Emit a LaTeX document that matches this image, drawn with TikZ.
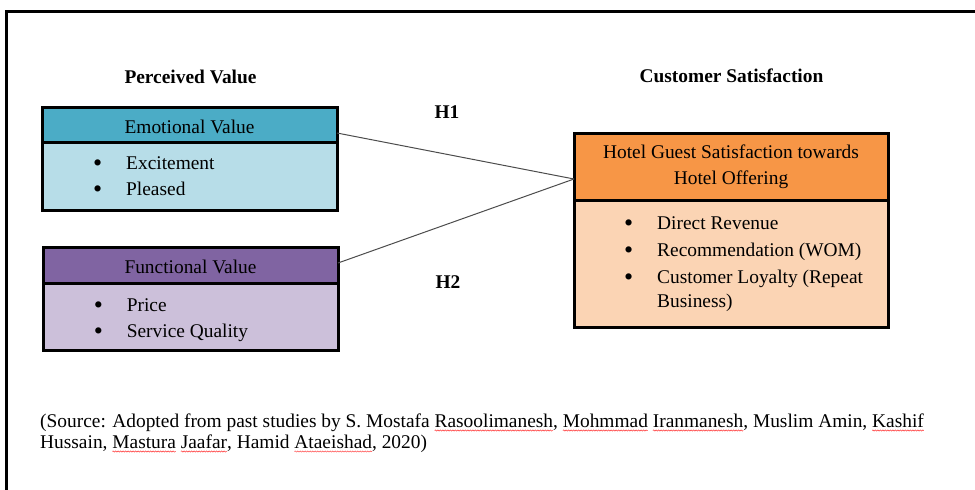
\documentclass[tikz,border=0pt]{standalone}
\usepackage{fontspec}
\setmainfont{Liberation Serif}
\usetikzlibrary{positioning, decorations.pathmorphing}

\definecolor{emoHeadFill}{HTML}{4BACC6}
\definecolor{emoBodyFill}{HTML}{B7DDE8}
\definecolor{funHeadFill}{HTML}{8064A2}
\definecolor{funBodyFill}{HTML}{CCC0DA}
\definecolor{hotHeadFill}{HTML}{F79646}
\definecolor{hotBodyFill}{HTML}{FBD4B4}

% red wavy underline for the names in the source line
\newlength{\spellwidth}
\newcommand{\spellwave}[1]{\settowidth{\spellwidth}{#1}%
    \mbox{\rlap{\tikz[overlay, baseline=0pt]\draw[spellmark] (0pt,-3.5pt) -- (\spellwidth,-3.5pt);}#1}}

% bullet followed by the item text
\newcommand{\bulletitem}[1]{\makebox[33pt][l]{\raisebox{-2.2pt}{\fontsize{26}{26}\selectfont\textbullet}}#1}

\tikzset{
    every node/.style={font=\fontsize{19.4}{26}\selectfont},
    box/.style={ % coloured boxes with thick black border
        draw, line width=3pt,
        outer sep=0pt, inner sep=0pt,
        anchor=north west
    },
    head/.style={box, text height=17pt, text depth=0pt},
    twohead/.style={box, align=center},
    body/.style={box},
    item/.style={anchor=base west, inner sep=0pt},
    title/.style={anchor=base, inner sep=0pt,
        font=\fontsize{19.4}{26}\selectfont\bfseries},
    link/.style={draw=black!70, line width=1pt},
    spellmark/.style={draw=red!80, line width=0.5pt,
        decorate, decoration={snake, amplitude=0.6pt, segment length=2.5pt}}
}

\begin{document}
\begin{tikzpicture}[x=1pt, y=-1pt]
    \useasboundingbox (0,0) rectangle (975,490);
    \clip (0,0) rectangle (975,490);
    % outer frame
    \draw[line width=3pt] (6,11) rectangle (990,505);

    % headings
    \node[title] (pvTitle) at (190.5,83) {Perceived Value};
    \node[title] (csTitle) at (731.5,82) {Customer Satisfaction};

    % emotional value
    \node[head, fill=emoHeadFill, minimum width=295pt, minimum height=35pt]
        (emoHead) at (42,107) {Emotional Value};
    \node[body, fill=emoBodyFill, minimum width=295pt, minimum height=68pt,
        below=0pt of emoHead] (emoBody) {};
    \node[item] (emoItemA) at ([xshift=51pt, yshift=-27pt]emoBody.north west) {\bulletitem{Excitement}};
    \node[item] (emoItemB) at ([xshift=51pt, yshift=-53pt]emoBody.north west) {\bulletitem{Pleased}};

    % functional value
    \node[head, fill=funHeadFill, minimum width=295pt, minimum height=36pt]
        (funHead) at (43,247) {Functional Value};
    \node[body, fill=funBodyFill, minimum width=295pt, minimum height=67pt,
        below=0pt of funHead] (funBody) {};
    \node[item] (funItemA) at ([xshift=50.6pt, yshift=-28pt]funBody.north west) {\bulletitem{Price}};
    \node[item] (funItemB) at ([xshift=50.6pt, yshift=-54pt]funBody.north west) {\bulletitem{Service Quality}};

    % hotel guest satisfaction
    \node[twohead, fill=hotHeadFill, minimum width=314pt, minimum height=67pt]
        (hotHead) at (574,133) {Hotel Guest Satisfaction towards\\Hotel Offering};
    \node[body, fill=hotBodyFill, minimum width=314pt, minimum height=127pt,
        below=0pt of hotHead] (hotBody) {};
    \node[item] (hotItemA) at ([xshift=50pt, yshift=-29pt]hotBody.north west) {\bulletitem{Direct Revenue}};
    \node[item] (hotItemB) at ([xshift=50pt, yshift=-56pt]hotBody.north west) {\bulletitem{Recommendation (WOM)}};
    \node[item] (hotItemC) at ([xshift=50pt, yshift=-83pt]hotBody.north west) {\bulletitem{Customer Loyalty (Repeat}};
    \node[item] (hotItemD) at ([xshift=83pt, yshift=-107pt]hotBody.north west) {Business)};

    % hypotheses
    \draw[link] ([yshift=-8.5pt]emoHead.east) -- ([yshift=-12.5pt]hotHead.west);
    \draw[link] ([yshift=2pt]funHead.east) -- ([yshift=-12.5pt]hotHead.west);
    \node[title] (hOne) at (447,118) {H1};
    \node[title] (hTwo) at (448,288) {H2};

    % source
    \node[item] (srcA) at (40,427) {(Source: Adopted from past studies by S. Mostafa \spellwave{Rasoolimanesh}, \spellwave{Mohmmad} \spellwave{Iranmanesh}, Muslim Amin, \spellwave{Kashif}};
    \node[item] (srcB) at (40,448) {Hussain, \spellwave{Mastura} \spellwave{Jaafar}, Hamid \spellwave{Ataeishad}, 2020)};
\end{tikzpicture}
\end{document}
